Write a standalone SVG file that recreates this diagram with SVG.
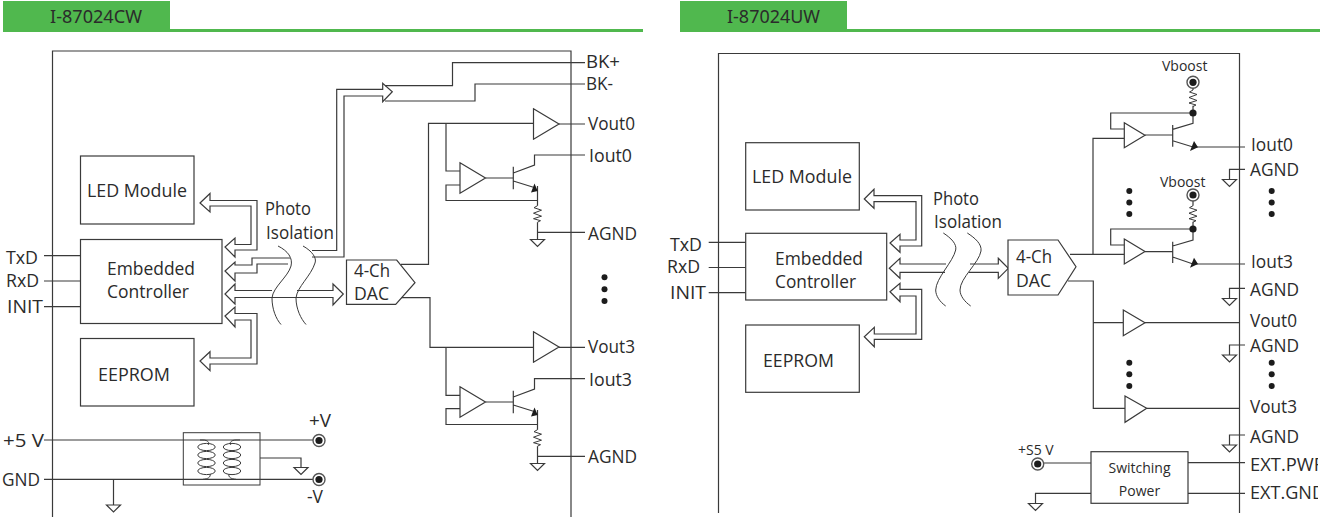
<svg xmlns="http://www.w3.org/2000/svg" width="1334" height="517" viewBox="0 0 1334 517">
<style>
text{font-family:"Open Sans","Noto Sans","Liberation Sans",sans-serif;font-size:18px;fill:#2b2b2b}
.h{font-family:"Noto Sans","Open Sans",sans-serif}
.s{font-size:14px}
.l,.box,.bus,.tri,.gnd{fill:none;stroke:#3a3a3a;stroke-width:1.2}
.box,.tri,.gnd,.bus{fill:#fff}
.r{fill:none;stroke:#3a3a3a;stroke-width:1}
.g{fill:#50b84e;stroke:none}
.d{fill:#1c1c1c;stroke:none}
.t{fill:#fff;stroke:#555;stroke-width:1.4}
</style>
<defs>
<clipPath id="pg"><rect x="0" y="0" width="1318" height="517"/></clipPath>
<path id="res" class="r" d="M0,0 L-3.5,2 L4,4.5 L-4,7.5 L4,10.5 L-4,13 L3,15 L0,16.5"/>
<path id="ground" class="gnd" d="M-7,0 H7 L0,7 Z"/>
<path id="amp" class="tri" d="M0,0 L25.5,15.3 L0,30.6 Z"/>
<path id="amps" class="tri" d="M0,0 L20.7,12.5 L0,25 Z"/>
<g id="term"><circle class="t" r="6"/><circle class="d" r="3.6"/></g>
<g id="coil"><ellipse class="r" cx="0" cy="0" rx="8.7" ry="3.6"/><ellipse class="r" cx="0" cy="8" rx="8.7" ry="3.6"/><ellipse class="r" cx="0" cy="16" rx="8.7" ry="3.6"/><ellipse class="r" cx="0" cy="24" rx="8.7" ry="3.6"/></g>
</defs>
<g id="header-left"><rect class="g" x="3" y="1" width="167" height="31"/><rect class="g" x="170" y="29" width="473" height="3"/><text class="h" x="50" y="23" textLength="92" lengthAdjust="spacingAndGlyphs">I-87024CW</text></g>
<g id="header-right"><rect class="g" x="680" y="1" width="167" height="31"/><rect class="g" x="847" y="29" width="473" height="3"/><text class="h" x="727" y="23" textLength="93" lengthAdjust="spacingAndGlyphs">I-87024UW</text></g>

<g id="connectors">
<path class="l" d="M52.5,517 V51 H571 V517"/>
<path class="l" d="M718.5,513 V53.5 H1239.5 V513"/>
<path class="l" d="M44,255.7 H80.5 M44,281 H80.5 M44,306.7 H80.5 M44,440 H313 M44,479.3 H313 M113.5,479.3 V505 M260,458 H301 V467.5"/>
<path class="r" d="M278,246 C288,251 293,258 291,266 C288,277 273,287 272,298 C272,309 276,319 281,324.5"/>
<path class="r" d="M303,246 C312,251 317,258 315,263 C311,276 297,287 296,298 C296,309 301,319 306,324.5"/>
<path class="r" d="M943.3,233 C951,238 957,244 955.7,250 C953,262 936,278 935.7,290 C935.7,296 940,302 945.7,306"/>
<path class="r" d="M967.3,233 C975,238 982,244 981,251 C979,263 960,278 960,290 C960,296 965,302 970.7,306"/>
<path class="bus" d="M200,203 L210,193.5 V200.5 H257 V250 H235 V257 L225,247 L235,238 V244.5 H251 V206 H210 V212 Z"/>
<path class="l" d="M290,258 H252 V265 H235 V262 L225,271 L235,281 V273 H257 V264 H288"/>
<path class="l" d="M312,250.5 H336.7 V89.3 H382.7 V83.3 L392.3,91.7 L382.7,101.7 V96 H344 V257 H312"/>
<path class="l" d="M272,290.5 H235 V284 L225,294 L235,304 V297.5 H333 V305 L343.3,294 L333,284 V290.5 H297"/>
<path class="bus" d="M225,316 L235,307 V313.5 H257 V364 H210 V370.7 L200,361 L210,351.7 V358 H251 V320 H235 V327 Z"/>
<path class="l" d="M385,85.7 H452.5 V62.7 H585 M385,101 H475 V84 H585"/>
<path class="l" d="M401,264.3 H428.5 V123.3 H533.5 M559,124 H585 M446,123.3 V171 H460 M485.5,178 H513.3 M513.3,166.7 V189.3 M513.3,173 L534.5,165 V155 H585 M513.3,181 L535,187.7 M537.5,186 V205.7 M537.5,222.2 V239.5 M537.5,232.3 H585 M537.5,200.5 H446 V185 H460"/>
<path class="l" d="M401,297.7 H430 V347.3 H533.5 M559,347.3 H585 M446,347.3 V395.3 H460 M485.5,402 H513.3 M513.3,390.7 V413.3 M513.3,397 L534.5,389 V378.7 H585 M513.3,405 L535,411.7 M537.5,410 V429.7 M537.5,446.2 V463.5 M537.5,456.3 H585 M537.5,424.5 H446 V408.7 H460"/>
<path class="d" d="M534.5,183.5 L531,192.5 L537.7,191 Z M534.5,407.5 L531,416.5 L537.7,415 Z"/>
<use href="#res" x="537.5" y="205.7"/><use href="#res" x="537.5" y="429.7"/>
<use href="#ground" x="537.5" y="239.5"/><use href="#ground" x="537.5" y="463.5"/>
<use href="#ground" x="301" y="467.5"/><use href="#ground" x="113.5" y="505"/>
<use href="#amp" x="533.5" y="108.7"/><use href="#amp" x="533.5" y="331.7"/>
<use href="#amp" x="460" y="162.7"/><use href="#amp" x="460" y="386.7"/>
<path class="l" d="M708.7,242.3 H745.7 M708.7,267.5 H745.7 M708.7,292.7 H745.7"/>
<path class="bus" d="M864.3,199 L874,189.3 V195.7 H921.7 V246 H900 V252.3 L890,243 L900,234.3 V240 H916 V201.7 H874 V208.3 Z"/>
<path class="l" d="M946,264 H900 V258.3 L889.3,268.3 L900,278.3 V272.3 H945 M969,272.3 H998.3 V278.3 L1008.3,268.3 L998.3,258.3 V264 H970"/>
<path class="bus" d="M890,291.7 L900,283.3 V289.3 H921.7 V339.3 H874.3 V346.7 L864.3,336.7 L874.3,327.3 V334 H916 V296 H900 V301.7 Z"/>
<path class="l" d="M1068,281 H1093.3 V408.3 H1125 M1070,254.3 H1124.3 M1093,254.3 V138.3 H1124.3 M1093,322.7 H1123.3 M1145,322.7 H1240 M1146.7,408.3 H1240"/>
<path class="l" d="M1124.3,129 H1110.7 V113 H1193 V123.3 L1172.7,129.3 M1145,135 H1172.7 M1172.7,125 V146.7 M1172.7,140.7 L1193,147 H1245 M1193,88 V90 M1193,105.7 V113"/>
<path class="l" d="M1124.3,245 H1110.7 V229 H1193 V240 L1172.7,246 M1145,251.7 H1172.7 M1172.7,241.7 V263 M1172.7,257 L1193,264 H1245 M1193,201 V205.7 M1193,221.7 V229"/>
<path class="d" d="M1194,141 L1190,151 L1198,147.3 Z M1194,257.7 L1190,267.7 L1198,264 Z"/>
<circle class="d" cx="1193" cy="113" r="3.6"/><circle class="d" cx="1193" cy="229" r="3.6"/>
<use href="#res" x="1193" y="90"/><use href="#res" x="1193" y="205.7"/>
<use href="#amps" x="1124.3" y="122.7"/>
<use href="#amps" x="1124.3" y="239"/>
<path class="tri" d="M1123.3,310 L1145,322.7 L1123.3,335.7 Z M1125,396 L1146.7,408.3 L1125,422.3 Z"/>
<path class="l" d="M1245,169.3 H1229.5 V179.5 M1245,288.3 H1229.5 V298.5 M1245,345 H1229.5 V355 M1245,435 H1229.5 V445 M1188,462.7 H1245 M1188,493.3 H1245 M1043,463 H1091 M1091,493.3 H1035.5 V503.5"/>
<use href="#ground" x="1229.5" y="179.5"/><use href="#ground" x="1229.5" y="298.5"/><use href="#ground" x="1229.5" y="355"/><use href="#ground" x="1229.5" y="445"/><use href="#ground" x="1035.5" y="503.5"/>
</g>

<g id="led-left"><rect class="box" x="80.5" y="156" width="113.5" height="68"/><text x="87" y="197" textLength="100" lengthAdjust="spacingAndGlyphs">LED Module</text></g>
<g id="controller-left"><rect class="box" x="80.5" y="239.5" width="141.5" height="84"/><text x="107" y="275" textLength="88" lengthAdjust="spacingAndGlyphs">Embedded</text><text x="107" y="298" textLength="82" lengthAdjust="spacingAndGlyphs">Controller</text></g>
<g id="eeprom-left"><rect class="box" x="80.5" y="338.5" width="113.5" height="67.5"/><text x="98" y="381" textLength="72" lengthAdjust="spacingAndGlyphs">EEPROM</text></g>
<g id="photo-left"><text x="265" y="215" textLength="46" lengthAdjust="spacingAndGlyphs">Photo</text><text x="266" y="239" textLength="68" lengthAdjust="spacingAndGlyphs">Isolation</text></g>
<g id="dac-left"><path class="box" d="M346.5,260 H396.7 L415,282.7 L395.7,304.3 H346.5 Z"/><text x="354" y="277" textLength="36" lengthAdjust="spacingAndGlyphs">4-Ch</text><text x="354" y="300" textLength="35" lengthAdjust="spacingAndGlyphs">DAC</text></g>
<g id="transformer">
<rect class="r" x="183.3" y="432.7" width="76.7" height="52.3"/>
<use href="#coil" x="206.5" y="447"/><use href="#coil" x="232" y="447"/>
<path class="r" d="M200,440 H203 C208,440 210,443 208,445 M203,479.3 C208,479 211,477 210,474 M240,440 H236 C231,440 229,443 231,445 M236,479.3 C231,479 228,477 229,474"/>
</g>
<g id="terminal-plus"><use href="#term" x="319" y="440.5"/><text x="309" y="427" textLength="22" lengthAdjust="spacingAndGlyphs">+V</text></g>
<g id="terminal-minus"><use href="#term" x="319" y="479.5"/><text x="307" y="503" textLength="16" lengthAdjust="spacingAndGlyphs">-V</text></g>
<g id="labels-left">
<text x="6" y="264" textLength="32" lengthAdjust="spacingAndGlyphs">TxD</text><text x="6" y="287" textLength="33" lengthAdjust="spacingAndGlyphs">RxD</text><text x="7" y="313" textLength="36" lengthAdjust="spacingAndGlyphs">INIT</text>
<text x="3" y="447" textLength="41" lengthAdjust="spacingAndGlyphs">+5 V</text><text x="2" y="486" textLength="38" lengthAdjust="spacingAndGlyphs">GND</text>
<text x="586" y="68" textLength="34" lengthAdjust="spacingAndGlyphs">BK+</text><text x="586" y="90" textLength="27" lengthAdjust="spacingAndGlyphs">BK-</text>
<text x="588" y="130" textLength="47" lengthAdjust="spacingAndGlyphs">Vout0</text><text x="589" y="162" textLength="43" lengthAdjust="spacingAndGlyphs">Iout0</text><text x="588" y="240" textLength="49" lengthAdjust="spacingAndGlyphs">AGND</text>
<text x="588" y="353" textLength="47" lengthAdjust="spacingAndGlyphs">Vout3</text><text x="589" y="386" textLength="43" lengthAdjust="spacingAndGlyphs">Iout3</text><text x="588" y="463" textLength="49" lengthAdjust="spacingAndGlyphs">AGND</text>
<circle class="d" cx="604.5" cy="277.3" r="3"/><circle class="d" cx="604.5" cy="289.3" r="3"/><circle class="d" cx="604.5" cy="301" r="3"/>
</g>

<g id="led-right"><rect class="box" x="745.7" y="142.7" width="113.6" height="67.3"/><text x="752" y="183" textLength="100" lengthAdjust="spacingAndGlyphs">LED Module</text></g>
<g id="controller-right"><rect class="box" x="745.7" y="233.3" width="141" height="66.7"/><text x="775" y="265" textLength="88" lengthAdjust="spacingAndGlyphs">Embedded</text><text x="775" y="288" textLength="81" lengthAdjust="spacingAndGlyphs">Controller</text></g>
<g id="eeprom-right"><rect class="box" x="745.7" y="325" width="113.6" height="67.3"/><text x="763" y="367" textLength="71" lengthAdjust="spacingAndGlyphs">EEPROM</text></g>
<g id="photo-right"><text x="933" y="205" textLength="46" lengthAdjust="spacingAndGlyphs">Photo</text><text x="934" y="228" textLength="68" lengthAdjust="spacingAndGlyphs">Isolation</text></g>
<g id="dac-right"><path class="box" d="M1008,240 H1058 L1076,266.7 L1058,295 H1008 Z"/><text x="1016" y="263" textLength="36" lengthAdjust="spacingAndGlyphs">4-Ch</text><text x="1016" y="287" textLength="35" lengthAdjust="spacingAndGlyphs">DAC</text></g>
<g id="switching-power"><rect class="box" x="1091" y="451.7" width="97" height="51.6"/><text class="s" x="1139.5" y="473" text-anchor="middle">Switching</text><text class="s" x="1139.5" y="496" text-anchor="middle">Power</text></g>
<g id="vboost-0"><use href="#term" x="1193" y="82.3"/><text class="s" x="1162" y="71">Vboost</text></g>
<g id="vboost-3"><use href="#term" x="1193" y="195"/><text class="s" x="1160" y="187">Vboost</text></g>
<g id="s5v"><use href="#term" x="1037.7" y="464"/><text class="s" x="1018" y="455">+S5 V</text></g>
<g id="labels-right" clip-path="url(#pg)">
<text x="670" y="251" textLength="32" lengthAdjust="spacingAndGlyphs">TxD</text><text x="667" y="273" textLength="33" lengthAdjust="spacingAndGlyphs">RxD</text><text x="670" y="299" textLength="36" lengthAdjust="spacingAndGlyphs">INIT</text>
<text x="1251" y="151" textLength="42" lengthAdjust="spacingAndGlyphs">Iout0</text><text x="1250" y="176" textLength="49" lengthAdjust="spacingAndGlyphs">AGND</text><text x="1251" y="268" textLength="42" lengthAdjust="spacingAndGlyphs">Iout3</text><text x="1250" y="296" textLength="49" lengthAdjust="spacingAndGlyphs">AGND</text>
<text x="1250" y="327" textLength="47" lengthAdjust="spacingAndGlyphs">Vout0</text><text x="1250" y="352" textLength="49" lengthAdjust="spacingAndGlyphs">AGND</text><text x="1250" y="413" textLength="47" lengthAdjust="spacingAndGlyphs">Vout3</text><text x="1250" y="443" textLength="49" lengthAdjust="spacingAndGlyphs">AGND</text>
<text x="1250" y="471" textLength="75" lengthAdjust="spacingAndGlyphs">EXT.PWR</text><text x="1250" y="499" textLength="75" lengthAdjust="spacingAndGlyphs">EXT.GND</text>
<circle class="d" cx="1129.3" cy="191" r="3"/><circle class="d" cx="1129.3" cy="202.5" r="3"/><circle class="d" cx="1129.3" cy="214" r="3"/>
<circle class="d" cx="1271.7" cy="191" r="3"/><circle class="d" cx="1271.7" cy="202.5" r="3"/><circle class="d" cx="1271.7" cy="214" r="3"/>
<circle class="d" cx="1129.3" cy="362.7" r="3"/><circle class="d" cx="1129.3" cy="374.3" r="3"/><circle class="d" cx="1129.3" cy="386" r="3"/>
<circle class="d" cx="1271.7" cy="362.7" r="3"/><circle class="d" cx="1271.7" cy="374.3" r="3"/><circle class="d" cx="1271.7" cy="386" r="3"/>
</g>
</svg>
